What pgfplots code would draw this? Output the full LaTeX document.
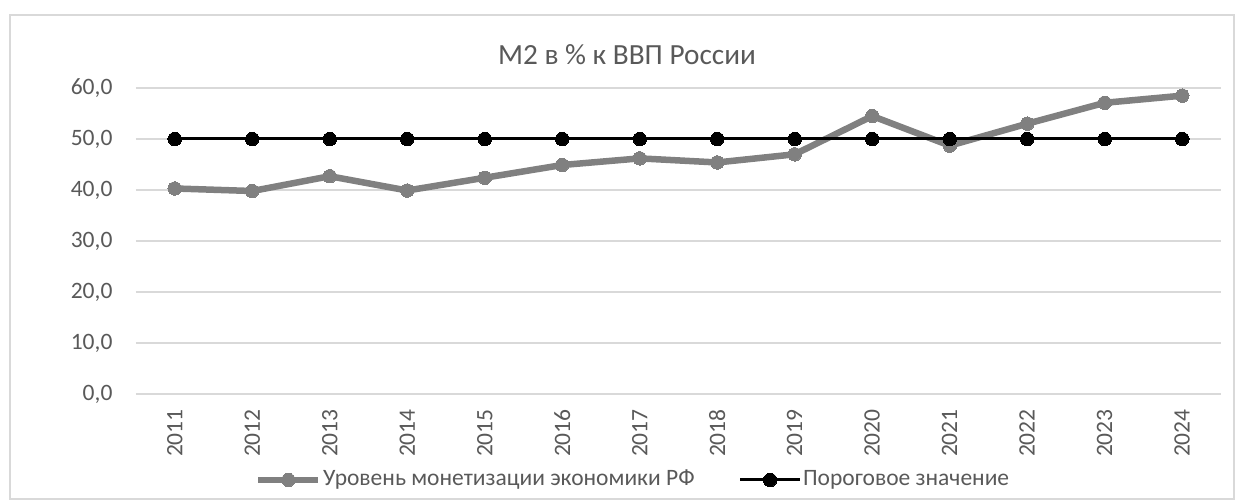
\documentclass[border=0pt]{standalone}
\usepackage{pgfplots}
\pgfplotsset{compat=1.18}
\usepackage{fontspec}
\setmainfont{Carlito}
\definecolor{txt}{HTML}{595959}
\definecolor{grd}{HTML}{D9D9D9}
\definecolor{ser}{HTML}{808080}
\begin{document}
\begin{tikzpicture}[x=0.4pt,y=0.4pt]
% px -> (px-136, 394-py)
\useasboundingbox (-136,394) rectangle (1099,-106);
\draw[grd,line width=0.8pt] (-126,379) rectangle (1098,-105);
\begin{axis}[
  at={(0,0)}, anchor=origin,
  scale only axis, width=434pt, height=122.4pt,
  xmin=2010.5, xmax=2024.5, ymin=0, ymax=60,
  xtick={2011,...,2024},
  xticklabels={2011,2012,2013,2014,2015,2016,2017,2018,2019,2020,2021,2022,2023,2024},
  ytick={0,10,...,60},
  yticklabel style={/pgf/number format/fixed, /pgf/number format/fixed zerofill, /pgf/number format/precision=1, /pgf/number format/use comma, /pgf/number format/assume math mode=true, /tikz/xshift=-5.9pt},
  ticklabel style={font=\fontsize{9.4}{11}\selectfont, text=txt},
  xticklabel style={rotate=90, anchor=east, xshift=-2.6pt},
  axis line style={draw=none},
  major tick length=0pt,
  ymajorgrids, grid style={grd, line width=0.6pt},
  clip=false,
  legend columns=2,
  legend style={draw=none, fill=none, at={(axis description cs:0.458,-0.281)}, anchor=center,
    font=\fontsize{9.4}{11}\selectfont, text=txt, nodes={inner xsep=0.6pt},
    /tikz/every even column/.append style={column sep=17pt}},
  legend image code/.code={\draw[#1,mark repeat=2,mark phase=2] plot coordinates {(0pt,0pt) (12pt,0pt) (24pt,0pt)};},
]
\addplot[ser, line width=2.6pt, mark=*, mark size=2.7pt, mark options={solid, line width=0pt, fill=ser}] coordinates {
(2011,40.3) (2012,39.8) (2013,42.7) (2014,39.9) (2015,42.4) (2016,44.9) (2017,46.2)
(2018,45.4) (2019,47.0) (2020,54.5) (2021,48.7) (2022,53.0) (2023,57.1) (2024,58.5)};
\addlegendentry{Уровень монетизации экономики РФ}
\addplot[black, line width=1.2pt, mark=*, mark size=2.7pt, mark options={solid, line width=0pt, fill=black}] coordinates {
(2011,50) (2012,50) (2013,50) (2014,50) (2015,50) (2016,50) (2017,50)
(2018,50) (2019,50) (2020,50) (2021,50) (2022,50) (2023,50) (2024,50)};
\addlegendentry{Пороговое значение}
\node[font=\fontsize{11.7}{14}\selectfont, text=txt] at (axis description cs:0.4525,1.108) {М2 в \% к ВВП России};
\end{axis}
\end{tikzpicture}
\end{document}
